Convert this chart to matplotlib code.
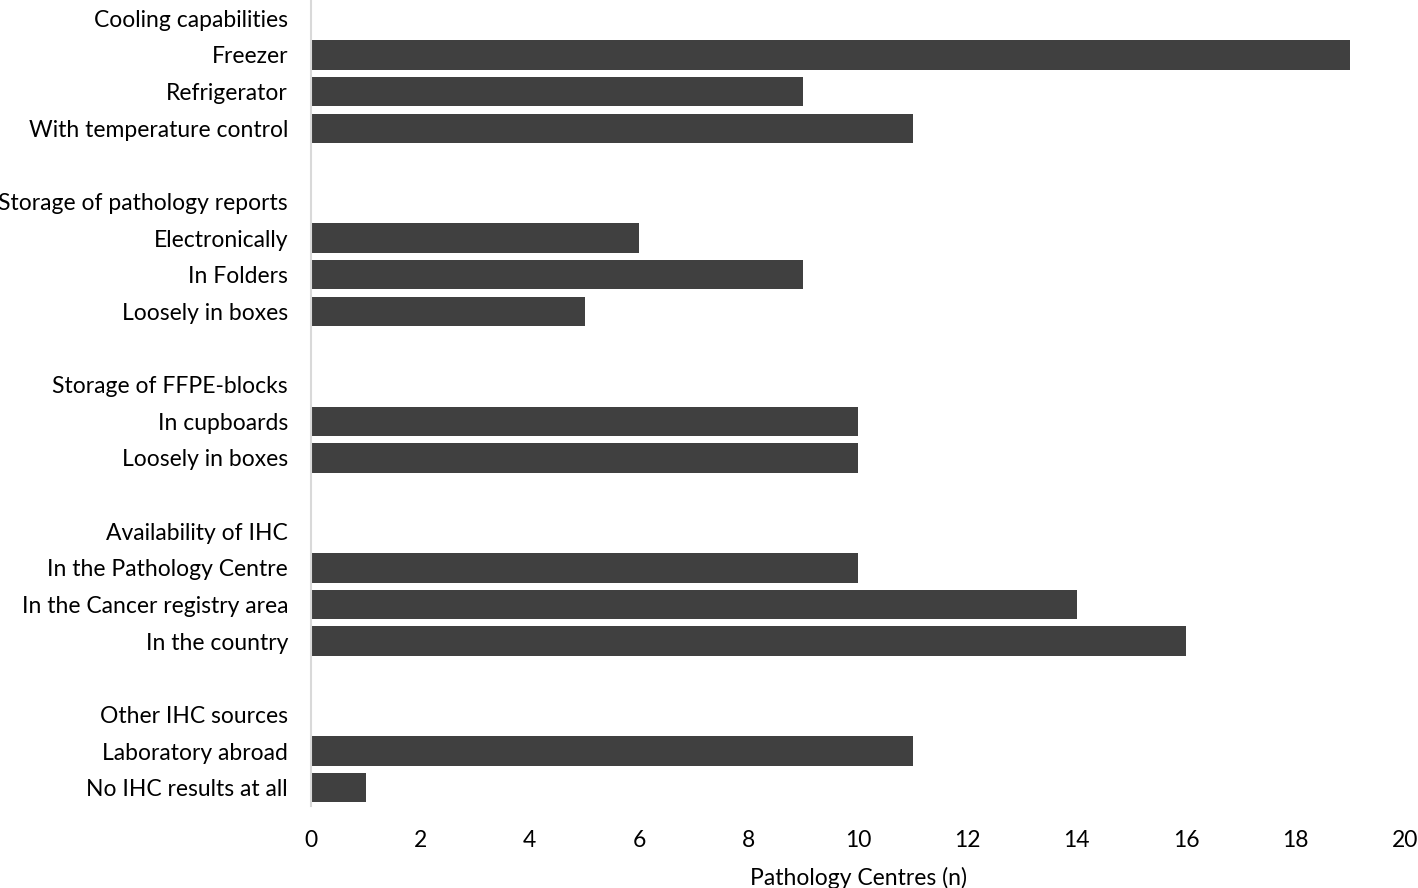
import matplotlib.pyplot as plt

plt.rcParams['font.family'] = ['Lato', 'DejaVu Sans']

labels = [
    'Cooling capabilities', 'Freezer', 'Refrigerator', 'With temperature control', '',
    'Storage of pathology reports', 'Electronically', 'In Folders', 'Loosely in boxes', '',
    'Storage of FFPE-blocks', 'In cupboards', 'Loosely in boxes', '',
    'Availability of IHC', 'In the Pathology Centre', 'In the Cancer registry area', 'In the country', '',
    'Other IHC sources', 'Laboratory abroad', 'No IHC results at all',
]
values = [
    0, 19, 9, 11, 0,
    0, 6, 9, 5, 0,
    0, 10, 10, 0,
    0, 10, 14, 16, 0,
    0, 11, 1,
]
xticks = list(range(0, 21, 2))

fig = plt.figure(figsize=(14.18, 8.88), dpi=100)
ax = fig.add_axes([311 / 1418, 1 - 806 / 888, 1094 / 1418, 806 / 888])

pos = list(range(len(labels)))
ax.barh(pos, values, height=0.8, color='#404040')
ax.set_yticks(pos, labels=labels, fontsize=16.5)
ax.set_ylim(len(labels) - 0.5, -0.5)
ax.set_xlim(0, 20)
ax.set_xticks(xticks, labels=[str(x) for x in xticks], fontsize=16.5)
ax.tick_params(axis='both', length=0)
ax.tick_params(axis='y', pad=16.5)
ax.tick_params(axis='x', pad=17.5)
ax.set_xlabel('Pathology Centres (n)', fontsize=16.5, labelpad=11)

for side in ['top', 'right', 'bottom']:
    ax.spines[side].set_visible(False)
ax.spines['left'].set_color('#d9d9d9')
ax.spines['left'].set_linewidth(1.5)

fig.savefig('out.png', dpi=100)
